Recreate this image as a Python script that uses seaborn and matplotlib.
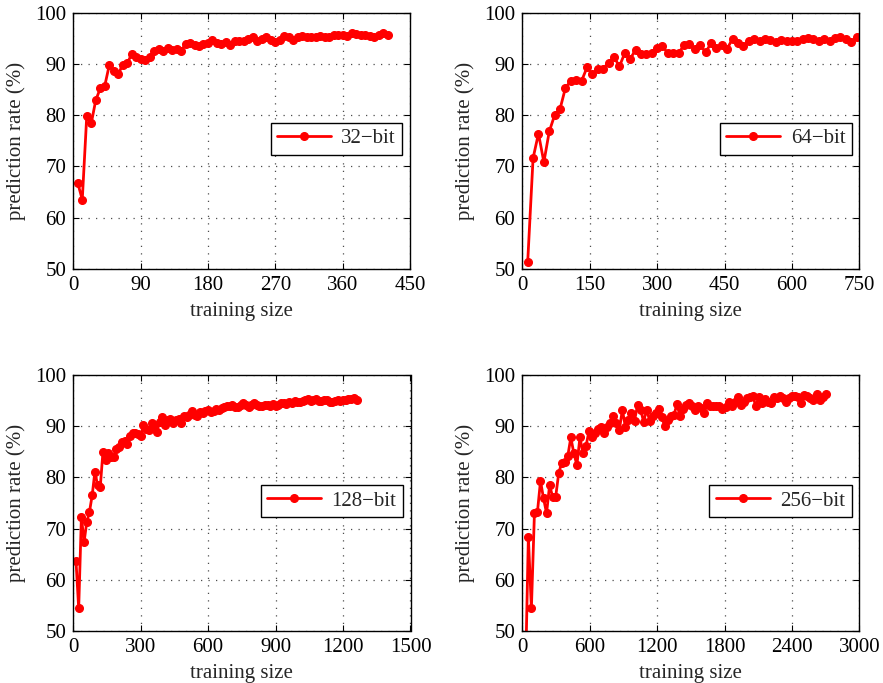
import matplotlib
matplotlib.use("Agg")
import matplotlib.pyplot as plt
import seaborn as sns
import pandas as pd

# ---------------- data ----------------
x32 = [6, 12, 18, 24, 30, 36, 42, 48, 54, 60, 66, 72, 78, 84, 90, 96, 102, 108, 114, 120,
       126, 132, 138, 144, 150, 156, 162, 168, 174, 180, 186, 192, 198, 204, 210, 216, 222,
       228, 234, 240, 246, 252, 258, 264, 270, 276, 282, 288, 294, 300, 306, 312, 318, 324,
       330, 336, 342, 348, 354, 360, 366, 372, 378, 384, 390, 396, 402, 408, 414, 420]
y32 = [66.7, 63.5, 79.9, 78.4, 82.9, 85.2, 85.7, 89.7, 88.6, 88.0,
       89.8, 90.1, 91.9, 91.3, 90.9, 90.8, 91.4, 92.6, 93.0, 92.6,
       93.2, 92.8, 93.0, 92.6, 93.8, 94.1, 93.7, 93.5, 93.9, 94.0,
       94.7, 94.0, 93.8, 94.3, 93.7, 94.5, 94.5, 94.5, 94.9, 95.3,
       94.5, 94.8, 95.2, 94.7, 94.3, 94.7, 95.4, 95.2, 94.7, 95.3,
       95.4, 95.3, 95.3, 95.3, 95.4, 95.3, 95.3, 95.7, 95.6, 95.6,
       95.4, 96.0, 95.8, 95.7, 95.6, 95.4, 95.3, 95.6, 96.0, 95.6]

x64 = [12, 24, 36, 48, 60, 72, 84, 96, 108, 120, 132, 144, 156, 168, 180, 192, 204, 216,
       228, 240, 252, 264, 276, 288, 300, 312, 324, 336, 348, 360, 372, 384, 396, 408, 420,
       432, 444, 456, 468, 480, 492, 504, 516, 528, 540, 552, 564, 576, 588, 600, 612, 624,
       636, 648, 660, 672, 684, 696, 708, 720, 732, 744]
y64 = [51.3, 71.6, 76.4, 70.8, 76.8, 80.0, 81.2, 85.3, 86.7, 86.8,
       86.7, 89.3, 88.0, 89.1, 89.1, 90.2, 91.4, 89.5, 92.1, 91.0,
       92.7, 91.9, 91.9, 92.1, 93.2, 93.4, 92.1, 92.2, 92.2, 93.6,
       93.8, 92.9, 93.6, 92.3, 94.0, 93.2, 93.7, 93.0, 94.9, 94.1,
       93.5, 94.5, 94.8, 94.5, 94.9, 94.7, 94.2, 94.7, 94.5, 94.5,
       94.4, 94.8, 95.0, 94.8, 94.5, 94.9, 94.5, 95.1, 95.2, 94.8,
       94.2, 95.3]

x128 = [12, 24, 36, 48, 60, 72, 84, 96, 108, 120,
        132, 144, 156, 168, 180, 192, 204, 216, 228, 240,
        252, 264, 276, 288, 300, 312, 324, 336, 348, 360,
        372, 384, 396, 408, 420, 432, 444, 456, 468, 480,
        492, 504, 516, 528, 540, 552, 564, 576, 588, 600,
        612, 624, 636, 648, 660, 672, 684, 696, 708, 720,
        732, 744, 756, 768, 780, 792, 804, 816, 828, 840,
        852, 864, 876, 888, 900, 912, 924, 936, 948, 960,
        972, 984, 996, 1008, 1020, 1032, 1044, 1056, 1068, 1080,
        1092, 1104, 1116, 1128, 1140, 1152, 1164, 1176, 1188, 1200,
        1212, 1224, 1236, 1248, 1260]
y128 = [63.7, 54.4, 72.3, 67.4, 71.3, 73.3, 76.5, 81.1, 78.5, 78.2,
        85.0, 83.4, 84.8, 83.9, 84.0, 85.6, 86.0, 87.0, 87.2, 86.5,
        88.1, 88.7, 88.7, 88.4, 88.1, 90.2, 89.4, 89.3, 90.6, 90.2,
        88.9, 90.9, 91.7, 90.2, 91.2, 91.5, 90.7, 91.2, 91.5, 90.7,
        91.9, 91.7, 92.2, 93.0, 92.2, 92.0, 92.8, 92.6, 93.0, 93.2,
        92.8, 93.0, 93.3, 93.2, 93.5, 93.8, 93.9, 93.9, 94.1, 93.7,
        93.8, 94.1, 94.5, 94.1, 93.7, 94.1, 94.5, 94.2, 94.0, 93.9,
        94.2, 94.1, 94.0, 94.3, 94.0, 94.2, 94.5, 94.6, 94.3, 94.8,
        94.6, 94.9, 94.7, 94.8, 95.0, 95.2, 95.4, 95.0, 95.1, 95.3,
        94.9, 95.0, 95.2, 95.1, 94.8, 94.7, 95.0, 95.1, 94.9, 95.2,
        95.1, 95.3, 95.4, 95.5, 95.2]

x256 = [27, 54, 81, 108, 135, 162, 189, 216, 243, 270,
        297, 324, 351, 378, 405, 432, 459, 486, 513, 540,
        567, 594, 621, 648, 675, 702, 729, 756, 783, 810,
        837, 864, 891, 918, 945, 972, 999, 1026, 1053, 1080,
        1107, 1134, 1161, 1188, 1215, 1242, 1269, 1296, 1323, 1350,
        1377, 1404, 1431, 1458, 1485, 1512, 1539, 1566, 1593, 1620,
        1647, 1674, 1701, 1728, 1755, 1782, 1809, 1836, 1863, 1890,
        1917, 1944, 1971, 1998, 2025, 2052, 2079, 2106, 2133, 2160,
        2187, 2214, 2241, 2268, 2295, 2322, 2349, 2376, 2403, 2430,
        2457, 2484, 2511, 2538, 2565, 2592, 2619, 2646, 2673, 2700]
y256 = [40.0, 68.4, 54.4, 73.0, 73.3, 79.3, 75.9, 73.0, 78.5, 76.2,
        76.2, 80.8, 82.9, 83.0, 84.2, 87.8, 84.7, 82.4, 87.8, 84.7,
        86.1, 89.1, 87.9, 88.7, 89.4, 89.9, 88.6, 89.8, 90.6, 91.9,
        90.6, 89.3, 93.2, 89.8, 91.3, 92.6, 91.1, 94.1, 93.2, 90.9,
        93.2, 91.1, 91.9, 92.6, 93.3, 91.7, 90.0, 91.2, 92.0, 92.2,
        94.3, 91.9, 93.3, 94.1, 94.5, 93.9, 93.2, 93.9, 93.5, 92.6,
        94.5, 94.0, 94.0, 94.0, 93.9, 93.4, 93.7, 94.8, 94.0, 94.8,
        95.8, 94.2, 94.8, 95.5, 95.8, 95.9, 93.9, 95.7, 94.5, 95.3,
        94.8, 94.5, 95.8, 95.5, 95.9, 95.5, 94.8, 95.5, 95.9, 95.9,
        95.8, 94.5, 96.1, 95.9, 95.5, 95.2, 96.3, 95.2, 95.8, 96.3]

labels = ["32\u2212bit", "64\u2212bit", "128\u2212bit", "256\u2212bit"]
xticks_list = [[0, 90, 180, 270, 360, 450],
               [0, 150, 300, 450, 600, 750],
               [0, 300, 600, 900, 1200, 1500],
               [0, 600, 1200, 1800, 2400, 3000]]
yticks = [50, 60, 70, 80, 90, 100]
xlabel = "training size"
ylabel = "prediction rate (%)"

# ---------------- style ----------------
sns.set_theme(style="ticks")
plt.rcParams["font.family"] = ["Liberation Serif", "DejaVu Serif"]
plt.rcParams["mathtext.fontset"] = "stix"

W, H = 883, 683
fig = plt.figure(figsize=(W / 100, H / 100), dpi=100)

# axes boxes in pixels: left, top, right, bottom
boxes = [(73.3, 12.7, 410.0, 268.7),
         (522.3, 12.7, 859.3, 268.7),
         (73.3, 375.0, 410.5, 631.0),
         (522.3, 375.0, 859.3, 631.0)]

series = [(x32, y32), (x64, y64), (x128, y128), (x256, y256)]

for i, ((l, t, r, b), (xs, ys)) in enumerate(zip(boxes, series)):
    ax = fig.add_axes([l / W, 1 - b / H, (r - l) / W, (b - t) / H])
    df = pd.DataFrame({"x": xs, "y": ys})
    sns.lineplot(data=df, x="x", y="y", ax=ax, color="#ff0000", linewidth=2.0,
                 marker="o", markersize=5.5, markeredgecolor="#ff0000",
                 markerfacecolor="#ff0000", markeredgewidth=1.0,
                 estimator=None, sort=False, label=labels[i])
    xt = xticks_list[i]
    ax.set_xlim(xt[0], xt[-1])
    ax.set_ylim(50, 100)
    ax.set_xticks(xt)
    ax.set_yticks(yticks)
    ax.tick_params(direction="in", length=4, width=0.8, top=True, right=True,
                   labelsize=15, pad=5, colors="black")
    ax.grid(True, linestyle=(0, (1, 5)), color="0.3", linewidth=0.9)
    for s in ax.spines.values():
        s.set_visible(True)
        s.set_color("black")
        s.set_linewidth(1.0)
    ax.set_xlabel(xlabel, fontsize=15, labelpad=5)
    ax.set_ylabel(ylabel, fontsize=15, labelpad=7)
    leg = ax.legend(loc="center right", bbox_to_anchor=(0.977, 0.508),
                    frameon=True, fancybox=False, edgecolor="black",
                    framealpha=1, fontsize=15, handlelength=2.6,
                    borderaxespad=0, borderpad=0.3, handletextpad=0.5)
    leg.get_frame().set_linewidth(1.0)

fig.savefig("out.png", dpi=100)
